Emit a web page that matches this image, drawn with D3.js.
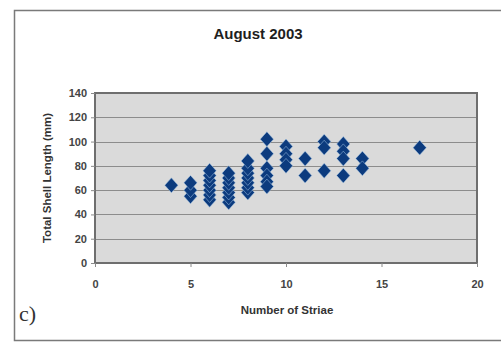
<!DOCTYPE html>
<html>
<head>
<meta charset="utf-8">
<script src="https://cdn.jsdelivr.net/npm/d3@7"></script>
<style>
  html, body { margin: 0; padding: 0; background: #fff; }
  svg { display: block; }
</style>
</head>
<body>
<svg id="chart" width="501" height="342"></svg>
<script>
// Striae count per shell and the shell lengths measured at each count
const striae =  [4, 5, 5, 5, 6, 6, 6, 6, 6, 6, 6, 7, 7, 7, 7, 7, 7, 7, 8, 8, 8, 8, 8, 8, 8,
                 9, 9, 9, 9, 9, 9, 10, 10, 10, 10, 11, 11, 12, 12, 12, 13, 13, 13, 13, 14, 14, 17];
const lengths = [64, 55, 60, 66, 52, 56, 60, 64, 68, 72, 76, 50, 54, 58, 62, 66, 70, 74, 58, 62, 66, 70, 74, 78, 84,
                 102, 90, 78, 72, 67, 63, 96, 90, 85, 80, 86, 72, 100, 95, 76, 98, 92, 86, 72, 86, 78, 95];
const xTicks = [0, 5, 10, 15, 20];
const yTicks = [0, 20, 40, 60, 80, 100, 120, 140];

const svg = d3.select("#chart");
const plot = { left: 95, top: 93, right: 477, bottom: 263 };
const font = "Arial, 'Liberation Sans', sans-serif";

// outer frame
svg.append("path")
  .attr("d", "M501,10.5 H14.5 V340.5 H501")
  .attr("fill", "none").attr("stroke", "#7a7a7a").attr("stroke-width", 1.5);

const x = d3.scaleLinear().domain([0, 20]).range([plot.left, plot.right]);
const y = d3.scaleLinear().domain([0, 140]).range([plot.bottom, plot.top]);

// plot background
svg.append("rect")
  .attr("x", plot.left).attr("y", plot.top)
  .attr("width", plot.right - plot.left).attr("height", plot.bottom - plot.top)
  .attr("fill", "#dadada");

// horizontal gridlines
svg.append("g").selectAll("line").data(yTicks.slice(1, -1)).join("line")
  .attr("x1", plot.left).attr("x2", plot.right)
  .attr("y1", d => Math.round(y(d)) + 0.5).attr("y2", d => Math.round(y(d)) + 0.5)
  .attr("stroke", "#8c8c8c").attr("stroke-width", 1.2);

// plot border
svg.append("rect")
  .attr("x", plot.left).attr("y", plot.top)
  .attr("width", plot.right - plot.left).attr("height", plot.bottom - plot.top)
  .attr("fill", "none").attr("stroke", "#6e6e6e").attr("stroke-width", 2);

// axes
const yAxis = svg.append("g")
  .attr("transform", `translate(${plot.left},0)`)
  .call(d3.axisLeft(y).tickValues(yTicks).tickSize(4).tickPadding(4));
const xAxis = svg.append("g")
  .attr("transform", `translate(0,${plot.bottom})`)
  .call(d3.axisBottom(x).tickValues(xTicks).tickSize(4).tickPadding(13));
[yAxis, xAxis].forEach(g => {
  g.select(".domain").remove();
  g.selectAll(".tick line").attr("stroke", "#8a8a8a");
  g.selectAll(".tick text")
    .attr("fill", "#444")
    .style("font-family", font)
    .style("font-size", "11px")
    .style("font-weight", "bold");
});

// points
svg.append("g").selectAll("path").data(striae.map((s, i) => [s, lengths[i]])).join("path")
  .attr("d", d3.symbol(d3.symbolDiamond2, 112))
  .attr("transform", d => `translate(${x(d[0])},${y(d[1])}) scale(1,1.12)`)
  .attr("fill", "#0c3b7e")
  .attr("stroke", "#a7c8e8").attr("stroke-width", 0.8).attr("stroke-opacity", 0.6);

// title
svg.append("text")
  .attr("x", 258).attr("y", 39)
  .attr("text-anchor", "middle")
  .attr("fill", "#1e1e1e")
  .style("font-family", font)
  .style("font-size", "15px").style("font-weight", "bold")
  .text("August 2003");

// axis titles
svg.append("text")
  .attr("x", 287).attr("y", 314)
  .attr("text-anchor", "middle")
  .attr("fill", "#333")
  .style("font-family", font)
  .style("font-size", "11.5px").style("font-weight", "bold")
  .text("Number of Striae");

svg.append("text")
  .attr("transform", "translate(51,178) rotate(-90)")
  .attr("text-anchor", "middle")
  .attr("fill", "#333")
  .style("font-family", font)
  .style("font-size", "11.5px").style("font-weight", "bold")
  .text("Total Shell Length (mm)");

// panel label
svg.append("text")
  .attr("x", 19).attr("y", 321)
  .attr("fill", "#333")
  .style("font-family", "'Liberation Serif', 'Times New Roman', serif")
  .style("font-size", "22px")
  .text("c)");
</script>
</body>
</html>
